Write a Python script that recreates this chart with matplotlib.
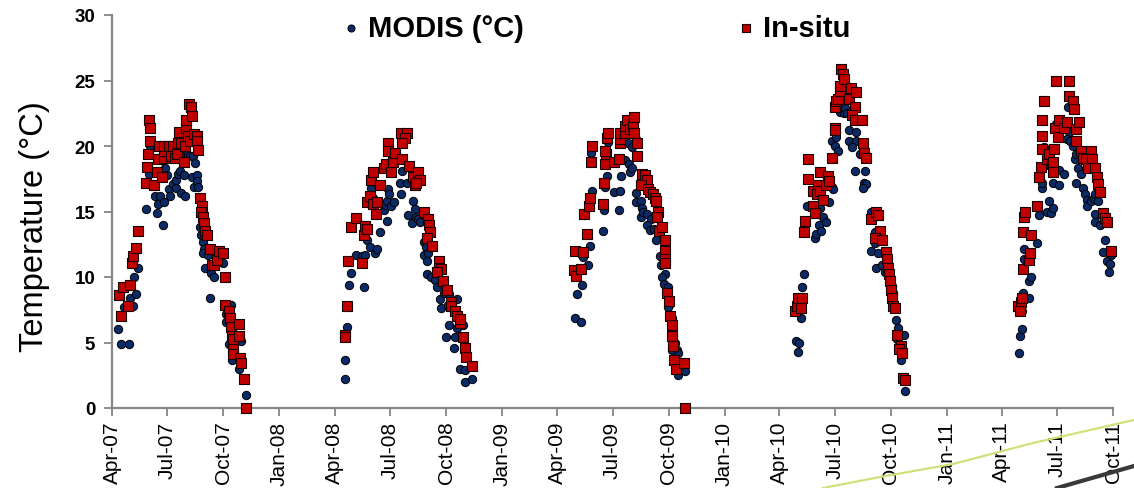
import matplotlib
matplotlib.use('Agg')
import matplotlib.pyplot as plt
import matplotlib.dates as mdates
from matplotlib.lines import Line2D
import pandas as pd

plt.rcParams['font.family'] = ['Liberation Sans', 'DejaVu Sans']

# Each season: days counted from 1 April of that year, temperatures in °C
season_start = ['2007-04-01', '2008-04-01', '2009-04-01', '2010-04-01', '2011-04-01']

insitu_2007_day = [11, 15, 18, 27, 30, 33, 34, 39, 42, 56, 57, 59, 60, 62, 62, 69, 74, 75, 77, 82, 85, 86, 85, 93,
                   97, 100, 104, 107, 108, 110, 114, 119, 120, 121, 122, 126, 130, 132, 125, 128, 134, 139, 140, 141,
                   145, 147, 146, 150, 151, 153, 156, 161, 164, 168, 172, 175, 183, 186, 186, 192, 194, 196, 197, 198,
                   208, 209, 198, 199, 211, 212, 217, 220]
insitu_2007_temp = [8.6, 7.0, 9.2, 7.8, 9.4, 11.1, 11.6, 12.2, 13.5, 17.2, 18.4, 19.4, 22.0, 21.4, 20.4, 17.0, 18.0,
                    19.0, 20.0, 17.6, 19.1, 19.6, 20.0, 20.0, 19.2, 20.0, 19.1, 19.4, 20.2, 21.1, 20.2, 18.8, 20.0,
                    21.4, 22.0, 23.2, 23.0, 22.3, 20.8, 20.4, 20.9, 20.8, 20.4, 19.7, 16.0, 15.4, 15.0, 14.6, 14.1,
                    13.5, 13.2, 12.1, 10.9, 10.9, 11.3, 12.0, 11.8, 10.0, 7.9, 7.4, 6.9, 6.2, 5.5, 5.3, 6.4, 5.5, 4.5,
                    4.1, 3.8, 3.4, 2.2, 0.0]
modis_2007_day = [10, 15, 28, 19, 30, 34, 40, 36, 42, 56, 60, 63, 70, 74, 75, 79, 83, 85, 87, 91, 93, 96, 100, 105,
                  105, 109, 111, 113, 119, 120, 121, 125, 128, 131, 133, 134, 137, 139, 139, 141, 145, 146, 149, 151,
                  149, 153, 158, 161, 163, 168, 170, 183, 187, 196, 188, 188, 192, 197, 208, 212, 220]
modis_2007_temp = [6.0, 4.9, 4.9, 7.7, 8.4, 7.8, 8.7, 10.0, 10.7, 15.2, 17.9, 20.0, 16.2, 14.9, 15.6, 16.2, 14.0, 15.7,
                   18.3, 17.8, 16.7, 16.2, 17.1, 16.8, 17.4, 17.9, 18.1, 16.4, 17.8, 16.2, 19.3, 19.3, 19.2, 17.6,
                   19.2, 16.9, 18.7, 17.8, 17.3, 16.9, 13.8, 13.2, 12.7, 12.1, 11.8, 10.7, 11.7, 8.4, 10.3, 10.0, 11.2,
                   11.1, 7.9, 7.9, 7.2, 6.6, 4.9, 3.7, 3.0, 5.1, 1.0]

insitu_2008_day = [16, 16, 20, 22, 27, 35, 44, 48, 50, 52, 53, 58, 62, 60, 63, 67, 69, 74, 81, 84, 87, 87, 93, 96, 98,
                   109, 118, 116, 110, 110, 121, 129, 131, 137, 140, 134, 146, 153, 154, 157, 152, 159, 171, 171, 175,
                   168, 178, 184, 191, 190, 198, 201, 206, 205, 211, 213, 215, 225]
insitu_2008_temp = [5.6, 5.4, 7.8, 11.2, 13.8, 14.5, 11.1, 13.2, 13.9, 13.7, 15.7, 16.2, 15.6, 17.4, 18.0, 14.8, 15.7,
                    17.0, 18.3, 18.6, 20.2, 19.6, 18.0, 18.8, 19.5, 21.0, 21.0, 20.6, 20.2, 19.0, 18.5, 17.6, 17.0,
                    18.0, 17.4, 17.2, 15.0, 14.4, 14.0, 13.4, 13.0, 12.4, 11.2, 10.7, 10.6, 10.4, 9.7, 9.0, 8.1, 7.8,
                    7.4, 7.0, 6.5, 6.8, 5.4, 4.6, 3.9, 3.2]
modis_2008_day = [16, 17, 20, 23, 27, 48, 35, 44, 50, 52, 58, 66, 69, 74, 59, 63, 81, 83, 85, 85, 87, 89, 93, 97, 107,
                  109, 111, 118, 120, 126, 129, 131, 134, 136, 140, 146, 149, 147, 153, 152, 152, 158, 165, 168, 173,
                  175, 179, 186, 188, 201, 187, 183, 197, 200, 211, 196, 206, 214, 214, 225]
modis_2008_temp = [2.2, 3.7, 6.2, 9.4, 10.3, 9.2, 11.7, 11.6, 11.7, 12.8, 12.3, 11.8, 12.1, 13.4, 16.8, 16.0, 15.1,
                   15.5, 15.8, 14.3, 16.7, 16.3, 15.4, 15.7, 17.2, 16.3, 18.1, 17.2, 14.7, 14.1, 15.8, 15.2, 14.6,
                   14.4, 14.2, 12.7, 12.3, 11.7, 11.8, 11.2, 10.2, 10.0, 9.8, 9.2, 8.3, 7.6, 8.8, 7.9, 8.7, 8.3, 6.3,
                   5.4, 5.4, 6.1, 6.3, 4.6, 3.0, 2.9, 2.0, 2.2]

insitu_2009_day = [28, 31, 30, 42, 39, 49, 45, 53, 54, 55, 57, 76, 77, 78, 81, 79, 82, 83, 93, 101, 103, 104, 103, 111,
                   112, 115, 120, 125, 127, 127, 131, 131, 139, 144, 147, 137, 149, 152, 158, 161, 162, 165, 164, 167,
                   173, 177, 177, 178, 177, 181, 183, 186, 188, 189, 191, 192, 195, 209, 210]
insitu_2009_temp = [10.5, 10.1, 12.0, 11.9, 10.6, 13.3, 14.8, 15.4, 16.0, 18.8, 20.0, 15.6, 17.2, 18.6, 19.4, 19.6,
                    20.6, 21.0, 18.8, 19.0, 20.2, 20.5, 21.0, 21.0, 21.5, 22.0, 21.3, 21.5, 22.2, 21.0, 20.2, 19.2,
                    17.9, 17.8, 17.4, 17.0, 16.7, 16.5, 16.3, 16.0, 15.8, 15.0, 14.6, 13.5, 13.8, 12.8, 12.0, 11.4,
                    11.1, 8.8, 8.2, 7.0, 6.3, 5.5, 4.7, 3.7, 3.0, 3.4, 0.0]
modis_2009_day = [29, 39, 32, 41, 50, 42, 54, 75, 45, 57, 77, 78, 82, 101, 93, 103, 105, 55, 83, 112, 118, 120, 123,
                  117, 123, 129, 130, 130, 137, 140, 138, 141, 148, 154, 147, 153, 159, 162, 169, 170, 177, 173, 176,
                  182, 184, 182, 188, 191, 193, 197, 199, 198, 210, 189]
modis_2009_temp = [6.9, 6.6, 8.7, 9.4, 10.9, 11.5, 12.4, 13.5, 14.7, 16.6, 15.1, 16.9, 17.7, 15.1, 16.5, 16.6, 17.7,
                   19.5, 20.3, 18.9, 18.6, 18.0, 18.3, 20.2, 19.9, 20.5, 16.4, 15.7, 15.8, 15.3, 14.6, 15.0, 14.8,
                   14.4, 14.0, 13.6, 13.7, 12.8, 11.6, 10.9, 10.2, 10.0, 9.5, 9.2, 7.9, 7.7, 6.9, 5.6, 5.0, 4.4, 4.2,
                   2.5, 2.8, 4.4]

insitu_2010_day = [26, 29, 31, 36, 37, 41, 42, 47, 47, 56, 59, 56, 64, 62, 66, 67, 71, 77, 80, 81, 86, 91, 91, 92, 93,
                   96, 99, 99, 102, 104, 106, 114, 117, 126, 125, 119, 124, 135, 137, 139, 142, 151, 158, 162, 166,
                   157, 169, 175, 177, 178, 180, 182, 184, 185, 187, 190, 193, 200, 196, 201, 203, 207]
insitu_2010_temp = [7.4, 7.8, 8.4, 7.6, 8.4, 13.4, 14.3, 17.5, 19.0, 15.4, 14.9, 16.6, 17.0, 16.3, 16.6, 18.0, 15.9,
                    17.0, 17.7, 17.3, 19.1, 21.4, 21.2, 23.0, 23.4, 23.6, 24.2, 24.6, 25.9, 25.5, 25.1, 23.6, 24.4,
                    24.1, 23.0, 22.4, 22.0, 22.0, 20.2, 19.5, 19.1, 14.4, 15.0, 14.7, 13.5, 13.0, 12.8, 11.9, 11.4,
                    10.7, 10.2, 9.7, 9.0, 8.4, 7.8, 7.6, 5.6, 4.7, 4.5, 4.2, 2.3, 2.1]
modis_2010_day = [28, 32, 31, 36, 38, 41, 58, 60, 65, 68, 72, 77, 45, 67, 81, 86, 88, 87, 91, 93, 97, 100, 106, 108,
                  111, 115, 126, 114, 126, 119, 133, 139, 124, 140, 139, 142, 137, 150, 157, 157, 151, 162, 159, 169,
                  174, 180, 185, 187, 192, 195, 199, 204, 193, 196, 200, 207]
modis_2010_temp = [5.1, 5.0, 4.3, 6.9, 9.2, 10.2, 13.0, 13.3, 14.0, 13.5, 14.6, 14.2, 15.4, 15.3, 15.7, 16.9, 16.7,
                   20.4, 20.0, 20.7, 19.6, 22.6, 22.5, 22.9, 22.5, 21.2, 21.1, 20.4, 20.4, 19.9, 19.4, 19.3, 18.1,
                   18.1, 17.2, 17.1, 16.8, 15.0, 13.4, 12.6, 12.0, 11.8, 10.7, 10.9, 10.4, 10.1, 9.3, 8.8, 6.7, 6.1,
                   5.6, 5.6, 5.3, 4.6, 3.7, 1.3]

insitu_2011_day = [27, 32, 33, 31, 35, 45, 47, 36, 48, 37, 38, 59, 61, 65, 66, 67, 67, 70, 74, 78, 82, 85, 84, 86, 87,
                   93, 95, 103, 107, 89, 111, 110, 117, 119, 123, 127, 122, 130, 147, 133, 139, 149, 142, 154, 156,
                   158, 161, 167, 170, 173, 180]
insitu_2011_temp = [7.8, 8.1, 8.4, 7.4, 10.6, 11.3, 11.8, 13.4, 13.2, 14.6, 15.0, 15.4, 17.6, 18.4, 19.8, 20.8, 22.0,
                    23.4, 19.0, 19.4, 18.6, 18.8, 18.0, 19.8, 21.4, 20.7, 22.0, 21.4, 21.8, 25.0, 25.0, 23.8, 23.4,
                    22.8, 21.3, 21.8, 20.4, 19.6, 19.6, 19.1, 19.0, 19.0, 18.3, 18.3, 17.6, 17.1, 16.5, 14.9, 14.5,
                    14.2, 12.0]
modis_2011_day = [28, 31, 33, 34, 36, 45, 48, 45, 37, 37, 59, 61, 74, 81, 78, 85, 66, 67, 70, 84, 94, 94, 103, 90, 109,
                  111, 107, 112, 118, 121, 122, 126, 130, 122, 133, 137, 140, 141, 147, 151, 153, 158, 153, 153, 161,
                  170, 167, 180, 173, 178, 177]
modis_2011_temp = [4.2, 5.5, 6.0, 7.4, 8.8, 9.7, 10.0, 8.4, 11.4, 12.1, 12.6, 14.7, 15.0, 14.9, 15.8, 15.3, 16.8, 17.2,
                   19.9, 17.2, 17.0, 18.2, 17.9, 21.7, 23.0, 21.1, 20.5, 20.4, 20.0, 19.0, 19.4, 18.3, 17.9, 17.2,
                   16.8, 16.3, 15.9, 15.4, 15.8, 16.0, 16.3, 15.8, 14.8, 14.2, 14.0, 12.8, 11.9, 11.7, 11.2, 11.0, 10.4]

modis_days = [modis_2007_day, modis_2008_day, modis_2009_day, modis_2010_day, modis_2011_day]
modis_temps = [modis_2007_temp, modis_2008_temp, modis_2009_temp, modis_2010_temp, modis_2011_temp]
insitu_days = [insitu_2007_day, insitu_2008_day, insitu_2009_day, insitu_2010_day, insitu_2011_day]
insitu_temps = [insitu_2007_temp, insitu_2008_temp, insitu_2009_temp, insitu_2010_temp, insitu_2011_temp]

x_start, x_end = '2007-04-01', '2011-10-01'


def build(days_list, temps_list):
    frames = []
    for start, d, t in zip(season_start, days_list, temps_list):
        assert len(d) == len(t)
        frames.append(pd.DataFrame({'date': pd.Timestamp(start) + pd.to_timedelta(d, unit='D'), 'temp': t}))
    return pd.concat(frames, ignore_index=True)


modis = build(modis_days, modis_temps)
insitu = build(insitu_days, insitu_temps)

W, H = 1134, 489
fig = plt.figure(figsize=(W / 100, H / 100), dpi=100)
ax = fig.add_axes([112 / W, 80 / H, 1001 / W, 393 / H])

ax.scatter(modis['date'], modis['temp'], s=36, marker='o', facecolor='#0b2a66', edgecolor='black',
           linewidths=0.7, zorder=2, clip_on=False, label='MODIS (°C)')
ax.scatter(insitu['date'], insitu['temp'], s=42, marker='s', facecolor='#c00000', edgecolor='#1a0000',
           linewidths=0.8, zorder=3, clip_on=False, label='In-situ')

ax.set_ylim(0, 30)
ax.set_yticks(range(0, 31, 5))
ax.set_xlim(pd.Timestamp(x_start), pd.Timestamp(x_end))
ax.xaxis.set_major_locator(mdates.MonthLocator(bymonth=[1, 4, 7, 10]))
ax.xaxis.set_major_formatter(mdates.DateFormatter('%b-%y'))

for s in ['top', 'right']:
    ax.spines[s].set_visible(False)
for s in ['left', 'bottom']:
    ax.spines[s].set_color('#868686')
    ax.spines[s].set_linewidth(1.6)

ax.tick_params(axis='both', direction='out', length=6, width=1.3, color='#868686')
ax.tick_params(axis='y', pad=6, labelsize=13.5)
ax.tick_params(axis='x', pad=3, labelsize=15, labelrotation=90)
for lbl in ax.get_yticklabels():
    lbl.set_fontweight('bold')

ax.set_ylabel('Temperature (°C)', fontsize=23.5)
ax.yaxis.set_label_coords(-0.062, 0.465)

ax.legend(loc='center', bbox_to_anchor=(0.484, 0.967), ncol=2, frameon=False, scatterpoints=1,
          prop={'weight': 'bold', 'size': 21}, columnspacing=7.3, handlelength=0.6, handletextpad=0.3,
          markerscale=0.85)

# decorative slide lines in the lower right corner
green_x = [823, 880, 953, 1033, 1134]
green_y = [489, 478, 465, 444, 421]
fig.add_artist(Line2D([x / W for x in green_x], [1 - y / H for y in green_y], transform=fig.transFigure,
                      color='#d3e07a', lw=1.6))
fig.add_artist(Line2D([1057 / W, 1134 / W], [1 - 489 / H, 1 - 467 / H], transform=fig.transFigure,
                      color='#3a3a3a', lw=3))

fig.savefig('out.png', dpi=100)
